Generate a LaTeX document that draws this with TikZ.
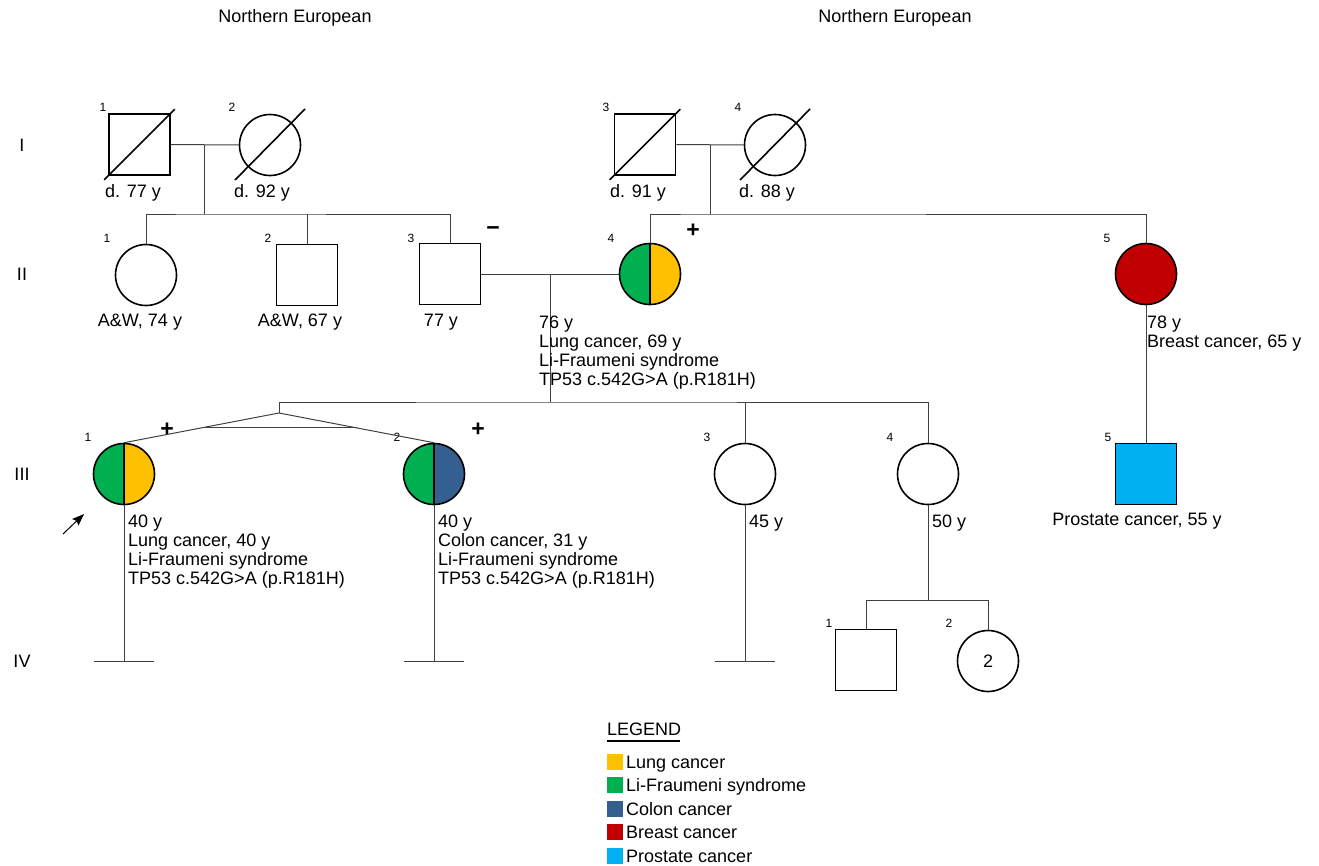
\documentclass[tikz,border=0pt]{standalone}
\usepackage{fontspec}
\setmainfont{Liberation Sans}
\usetikzlibrary{arrows.meta,calc}
\definecolor{lfgreen}{HTML}{00B050}
\definecolor{lungyel}{HTML}{FFC000}
\definecolor{colblue}{HTML}{355E91}
\definecolor{brred}{HTML}{C00000}
\definecolor{procyan}{HTML}{00B0F0}
\definecolor{conncol}{HTML}{404040}
\begin{document}
\begin{tikzpicture}[x=1pt,y=-1pt,
  font=\fontsize{18}{19}\selectfont,
  person/.style={draw=black,line width=1.6pt,inner sep=0pt,minimum size=61pt,fill=white},
  male/.style={person,rectangle},
  female/.style={person,circle},
  conn/.style={draw=conncol,line width=1pt},
  num/.style={font=\fontsize{12}{14}\selectfont,inner sep=0pt},
  lbl/.style={inner sep=0pt},
  blk/.style={inner sep=0pt,anchor=north west,align=left},
  sign/.style={inner sep=0pt,font=\bfseries\fontsize{23}{24}\selectfont},
  halves/.style 2 args={path picture={
      \fill[#1] (path picture bounding box.north west) rectangle (path picture bounding box.south);
      \fill[#2] (path picture bounding box.north) rectangle (path picture bounding box.south east);
      \draw[line width=1.6pt] (path picture bounding box.north) -- (path picture bounding box.south);}},
  dec/.style={line width=1.6pt},
  swatch/.style={inner sep=0pt,minimum size=16pt},
  legtext/.style={inner sep=0pt,anchor=base west}
]
\useasboundingbox (0,0) rectangle (1319,865);

% headings
\node[lbl] (hl) at (295,18) {Northern European};
\node[lbl] (hr) at (895,18) {Northern European};

% generation labels
\node[lbl] (gI) at (22,145) {I};
\node[lbl] (gII) at (22,274) {II};
\node[lbl] (gIII) at (22,474) {III};
\node[lbl] (gIV) at (22,661) {IV};

% generation I
\node[male] (I1) at (139.5,144.5) {};
\node[female] (I2) at (270,145) {};
\node[male] (I3) at (645,144.5) {};
\node[female] (I4) at (775,145) {};
\draw[dec] ($(I1.south west)+(-4,4)$) -- ($(I1.north east)+(4,-4)$);
\draw[dec] ($(I2.center)+(-35,35)$) -- ($(I2.center)+(35,-36)$);
\draw[dec] ($(I3.south west)+(-4,4)$) -- ($(I3.north east)+(4,-4)$);
\draw[dec] ($(I4.center)+(-35,35)$) -- ($(I4.center)+(35,-36)$);
\node[num] (nI1) at (103,107) {1};
\node[num] (nI2) at (232,107) {2};
\node[num] (nI3) at (606,107) {3};
\node[num] (nI4) at (738,107) {4};
\node[lbl] (tI1) at (133,193) {d. 77 y};
\node[lbl] (tI2) at (262,193) {d. 92 y};
\node[lbl] (tI3) at (638,193) {d. 91 y};
\node[lbl] (tI4) at (767,193) {d. 88 y};

% generation II
\node[female] (II1) at (146,275) {};
\node[male] (II2) at (307,275) {};
\node[male] (II3) at (450,274) {};
\node[female,halves={lfgreen}{lungyel}] (II4) at (650,274) {};
\node[female,fill=brred] (II5) at (1146,274) {};
\node[num] (nII1) at (107,238) {1};
\node[num] (nII2) at (268,238) {2};
\node[num] (nII3) at (411,238) {3};
\node[num] (nII4) at (611,238) {4};
\node[num] (nII5) at (1107,238) {5};
\node[sign] (mII3) at (493,231) {−};
\node[sign] (pII4) at (693,231) {+};
\node[lbl] (tII1) at (140,322) {A\&W, 74 y};
\node[lbl] (tII2) at (300,322) {A\&W, 67 y};
\node[lbl] (tII3) at (441,322) {77 y};

% generation III
\node[female,halves={lfgreen}{lungyel}] (III1) at (124,474) {};
\node[female,halves={lfgreen}{colblue}] (III2) at (434,474) {};
\node[female] (III3) at (745,474) {};
\node[female] (III4) at (928,474) {};
\node[male,fill=procyan] (III5) at (1146,474) {};
\node[num] (nIII1) at (88,437) {1};
\node[num] (nIII2) at (397,437) {2};
\node[num] (nIII3) at (707,437) {3};
\node[num] (nIII4) at (890,437) {4};
\node[num] (nIII5) at (1108,437) {5};
\node[sign] (pIII1) at (167,430) {+};
\node[sign] (pIII2) at (478,430) {+};
\node[lbl] (tIII5) at (1137,521) {Prostate cancer, 55 y};

% generation IV
\node[male] (IV1) at (866,660) {};
\node[female] (IV2) at (988,661) {2};
\node[num] (nIV1) at (829,623) {1};
\node[num] (nIV2) at (949,623) {2};

% connectors gen I -> II
\coordinate (m1) at (204,144.5);
\coordinate (s1) at (204,214);
\draw[conn] (I1.east) -- (I2.west);
\draw[conn] (m1) -- (s1);
\draw[conn] (II1.north) |- (s1) -| (II3.north);
\draw[conn] (II2.north) -- (II2.north |- s1);
\coordinate (m2) at (710,145);
\coordinate (s2) at (710,214);
\draw[conn] (I3.east) -- (I4.west);
\draw[conn] (m2) -- (s2);
\draw[conn] (II4.north) |- (s2) -| (II5.north);

% II3 x II4 -> III
\coordinate (m3) at (550,274);
\coordinate (s3) at (550,402);
\coordinate (apex) at (279,413);
\draw[conn] (II3.east) -- (II4.west);
\draw[conn] (m3) -- (s3);
\draw[conn] (apex) |- (s3) -| (III4.north);
\draw[conn] (III3.north) -- (III3.north |- s3);
\draw[conn] (III1.north) -- (apex) -- (III2.north);
\draw[conn] ($(apex)!0.5!(III1.north)$) -- ($(apex)!0.5!(III2.north)$);
\draw[conn] (II5.south) -- (III5.north);

% no-children lines
\draw[conn] (III1.south) -- ++(0,156) coordinate (e1);
\draw[conn] ($(e1)+(-30,0)$) -- ($(e1)+(30,0)$);
\draw[conn] (III2.south) -- ++(0,156) coordinate (e2);
\draw[conn] ($(e2)+(-30,0)$) -- ($(e2)+(30,0)$);
\draw[conn] (III3.south) -- ++(0,156) coordinate (e3);
\draw[conn] ($(e3)+(-30,0)$) -- ($(e3)+(30,0)$);

% III4 -> IV
\draw[conn] (III4.south) -- ++(0,95) coordinate (s4);
\draw[conn] (IV1.north) |- (s4) -| (IV2.north);

% text blocks
\node[blk] (tII4) at (539,315.5) {76 y\\Lung cancer, 69 y\\Li-Fraumeni syndrome\\TP53 c.542G>A (p.R181H)};
\node[blk] (tII5) at (1147,315.5) {78 y\\Breast cancer, 65 y};
\node[blk] (tIII1) at (128,514.5) {40 y\\Lung cancer, 40 y\\Li-Fraumeni syndrome\\TP53 c.542G>A (p.R181H)};
\node[blk] (tIII2) at (438,514.5) {40 y\\Colon cancer, 31 y\\Li-Fraumeni syndrome\\TP53 c.542G>A (p.R181H)};
\node[blk] (tIII3) at (749,514.5) {45 y};
\node[blk] (tIII4) at (932,514.5) {50 y};

% proband arrow
\coordinate (pa) at (63,534);
\coordinate (pb) at (84,514);
\draw[line width=1pt,-{Stealth[length=12pt,width=9pt,inset=2pt]}] (pa) -- (pb);

% legend
\node[inner sep=0pt,anchor=base west] (leg) at (607,735.5) {LEGEND};
\draw[line width=1.2pt] (607,741) -- (680,741);
\node[swatch,fill=lungyel] (sw1) at (615,762) {};
\node[legtext] (lt1) at (626,768.5) {Lung cancer};
\node[swatch,fill=lfgreen] (sw2) at (615,785) {};
\node[legtext] (lt2) at (626,791.5) {Li-Fraumeni syndrome};
\node[swatch,fill=colblue] (sw3) at (615,809) {};
\node[legtext] (lt3) at (626,815.5) {Colon cancer};
\node[swatch,fill=brred] (sw4) at (615,832) {};
\node[legtext] (lt4) at (626,838.5) {Breast cancer};
\node[swatch,fill=procyan] (sw5) at (615,856) {};
\node[legtext] (lt5) at (626,862.5) {Prostate cancer};
\end{tikzpicture}
\end{document}
